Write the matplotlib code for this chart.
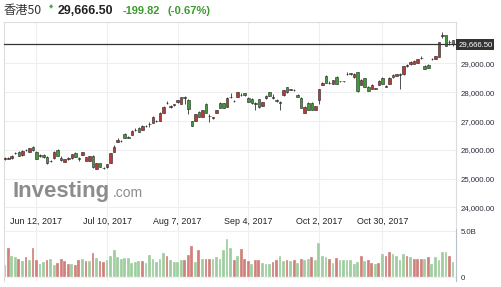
import matplotlib

matplotlib.use("Agg")
import matplotlib.pyplot as plt
import matplotlib.transforms as mtransforms
import numpy as np

plt.rcParams["font.family"] = ["Liberation Sans", "DejaVu Sans"]

W, H = 502, 287

# --- data (Hong Kong 50, daily, ~Jun-Nov 2017) ----------------------------
opens = [25690, 25700, 25720, 25890, 25930, 25810, 26000, 25940, 26100, 25930,
         25790, 25830, 25760, 25600, 25720, 26000, 25720, 25590, 25680, 25720,
         25890, 25720, 25830, 25630, 25620, 25790, 25340, 25540, 25360, 25400,
         25550, 25930, 26280, 26300, 26550, 26440, 26520, 26700, 26760, 26700,
         26830, 26890, 26940, 27000, 27010, 27290, 27620, 27500, 27570, 27660,
         27600, 27820, 27740, 26990, 27010, 27320, 27150, 27600, 27180, 27120,
         27290, 27630, 27620, 27500, 27830, 27700, 27850, 27910, 27970, 27800,
         27770, 27620, 27750, 27540, 27790, 28000, 27840, 27720, 27660, 27890,
         28170, 28090, 28080, 27910, 27800, 27290, 27640, 27630, 27390, 27720,
         28260, 28560, 28320, 28290, 28530, 28380, 28380, 28620, 28660, 28520,
         28690, 28270, 28480, 28200, 28130, 28120, 28270, 28510, 28200, 28300,
         28600, 28570, 28640, 28620, 28920, 28970, 28990, 29020, 29180, 28930,
         28960, 29150, 29160, 29240, 29970, 29980, 29750, 29800]
highs = [25740, 25760, 25810, 25940, 25960, 25990, 26030, 26080, 26130, 25950,
         25840, 25870, 25780, 25650, 25960, 26020, 25780, 25700, 25740, 25860,
         25910, 25740, 25930, 25760, 25800, 25810, 25550, 25560, 25400, 25520,
         25900, 26170, 26400, 26360, 26580, 26480, 26680, 26760, 26780, 26850,
         26850, 26980, 27160, 27040, 27300, 27510, 27700, 27560, 27610, 27740,
         27850, 27860, 27760, 27010, 27260, 27340, 27400, 27620, 27230, 27150,
         27400, 27650, 27640, 27820, 27990, 27730, 28010, 27960, 27990, 27820,
         27790, 27660, 27770, 27670, 27890, 28020, 27950, 27760, 27700, 28080,
         28190, 28110, 28100, 27930, 27820, 27510, 27660, 27650, 27540, 28120,
         28370, 28600, 28380, 28440, 28560, 28400, 28400, 28700, 28680, 28660,
         28710, 28450, 28500, 28220, 28280, 28150, 28410, 28530, 28240, 28520,
         28620, 28640, 28660, 28920, 28990, 29070, 29110, 29170, 29250, 28950,
         28980, 29180, 29260, 29740, 30080, 30000, 29830, 29820]
lows = [25660, 25680, 25700, 25870, 25780, 25790, 25950, 25920, 25960, 25670,
        25760, 25720, 25520, 25590, 25700, 25780, 25600, 25570, 25660, 25700,
        25750, 25620, 25820, 25610, 25600, 25380, 25320, 25410, 25320, 25380,
        25530, 25920, 26260, 26280, 26400, 26400, 26500, 26640, 26610, 26690,
        26790, 26780, 26920, 26980, 27000, 27280, 27580, 27460, 27530, 27640,
        27590, 27580, 27260, 26830, 26990, 27140, 27140, 27280, 26960, 27090,
        27280, 27450, 27460, 27490, 27790, 27660, 27840, 27860, 27880, 27650,
        27610, 27370, 27470, 27530, 27780, 27870, 27760, 27660, 27400, 27880,
        27990, 28070, 28060, 27820, 27450, 27270, 27380, 27390, 27380, 27600,
        28250, 28320, 28290, 28280, 28290, 28360, 28360, 28600, 28600, 28510,
        28010, 28250, 28190, 28050, 28120, 28100, 28260, 28290, 28180, 28290,
        28510, 28560, 28100, 28600, 28890, 28960, 28980, 29010, 29150, 28810,
        28840, 29120, 29150, 29230, 29900, 29600, 29650, 29620]
closes = [25720, 25730, 25790, 25900, 25800, 25970, 25980, 26060, 25980, 25690,
          25810, 25770, 25550, 25620, 25930, 25790, 25660, 25680, 25720, 25850,
          25760, 25670, 25920, 25750, 25790, 25390, 25540, 25420, 25380, 25510,
          25890, 26100, 26350, 26320, 26420, 26430, 26660, 26690, 26620, 26830,
          26830, 26910, 27150, 27010, 27290, 27500, 27620, 27500, 27570, 27730,
          27840, 27800, 27430, 26840, 27250, 27150, 27390, 27290, 27160, 27120,
          27390, 27460, 27470, 27810, 27830, 27700, 28000, 27900, 27890, 27660,
          27620, 27600, 27480, 27660, 27880, 27880, 27810, 27700, 27640, 28070,
          28000, 28090, 28080, 27830, 27460, 27500, 27390, 27400, 27530, 28100,
          28340, 28330, 28340, 28430, 28300, 28380, 28390, 28620, 28620, 28640,
          28030, 28440, 28200, 28060, 28270, 28140, 28400, 28300, 28210, 28510,
          28520, 28620, 28600, 28900, 28920, 29060, 29100, 29160, 29180, 28820,
          28850, 29150, 29250, 29730, 29970, 29620, 29760, 29666.5]

volumes = [1.26, 3.20, 2.26, 2.15, 1.96, 1.74, 2.19, 1.81, 3.15, 1.81,
           1.44, 1.59, 1.81, 1.93, 1.30, 1.48, 1.93, 1.74, 1.37, 1.37,
           1.33, 1.81, 1.96, 1.74, 1.74, 2.60, 2.04, 1.70, 1.59, 1.85,
           2.26, 2.93, 2.15, 1.96, 2.07, 2.07, 1.48, 1.59, 1.70, 1.70,
           1.56, 2.37, 1.96, 1.67, 2.00, 2.60, 2.26, 1.85, 1.59, 1.59,
           1.85, 1.81, 2.37, 3.37, 1.59, 2.93, 1.93, 1.93, 1.93, 1.93,
           2.22, 1.95, 2.96, 4.15, 3.20, 1.85, 2.30, 3.04, 1.93, 1.74,
           1.37, 1.89, 1.89, 1.56, 1.44, 1.37, 1.59, 1.81, 2.30, 1.70,
           1.81, 1.70, 1.81, 1.56, 1.93, 1.89, 1.93, 2.15, 1.89, 3.67,
           2.30, 2.19, 1.93, 1.48, 2.04, 1.81, 1.81, 1.81, 1.81, 1.37,
           1.63, 2.30, 1.70, 1.89, 1.56, 1.37, 1.56, 2.48, 2.30, 2.67,
           2.48, 2.30, 1.81, 2.48, 2.30, 2.15, 1.93, 1.93, 1.93, 1.93,
           2.19, 1.37, 2.22, 1.81, 2.67, 2.67, 2.30, 1.67]
vol_up = "grggrgrgrr" "ggrggrrrrg" "rrgrgrgrrg" "gggggggggr" \
         "ggggggrggg" "grrrgrgrrg" "gggggrgrrr" "grrgggrrgg" \
         "rgrgrggrgg" "ggrgrggggg" "grgrrgrgrr" "ggggrgrrrg" "rgggggrg"

date_idx = [9, 29, 49, 69, 89, 107]
date_labels = ["Jun 12, 2017", "Jul 10, 2017", "Aug 7, 2017",
               "Sep 4, 2017", "Oct 2, 2017", "Oct 30, 2017"]
price_ticks = [24000, 25000, 26000, 27000, 28000, 29000]
last_price = 29666.50
change, change_pct = -199.82, -0.67

UP, DOWN = "#b23c37", "#3f9a3a"
VUP, VDOWN = "#d07f7b", "#9fcd9f"
GRID = "#efefef"


def rect(x0, y0, x1, y1):
    """pixel box (top-left origin) -> figure fraction rect"""
    return [x0 / W, 1 - y1 / H, (x1 - x0) / W, (y1 - y0) / H]


fig = plt.figure(figsize=(W / 100, H / 100), dpi=100)
fig.patch.set_facecolor("white")

# --- price pane -------------------------------------------------------
ax = fig.add_axes(rect(4, 22, 456, 229))
x = np.arange(len(closes))
o, h, l, c = map(np.asarray, (opens, highs, lows, closes))
up = c >= o
cols = np.where(up, UP, DOWN)
body_lo = np.minimum(o, c)
body_h = np.maximum(np.abs(c - o), 12)

ax.vlines(x, l, h, color="#333333", lw=0.6, zorder=2)
ax.bar(x, body_h, bottom=body_lo, width=0.72, color=cols,
       edgecolor="#222222", linewidth=0.4, zorder=3)

ax.set_xlim(-0.2, 127.85)
ax.set_ylim(23253, 30441)
ax.set_yticks(price_ticks)
ax.set_yticklabels([f"{v:,.2f}" for v in price_ticks])
ax.yaxis.tick_right()
ax.tick_params(axis="y", length=0, pad=3.6, labelsize=5.6, labelcolor="#2c2c3c")
ax.set_xticks(date_idx)
ax.tick_params(axis="x", length=0, labelbottom=False)
ax.grid(True, color=GRID, lw=0.8, zorder=0)
for side in ("top", "left", "right"):
    ax.spines[side].set_color("#dcdcdc")
    ax.spines[side].set_linewidth(0.8)
ax.spines["bottom"].set_visible(False)

ax.axhline(last_price, color="#333333", lw=0.9, zorder=4)
ax.text(1.005, last_price, f"{last_price:,.2f}", transform=ax.get_yaxis_transform(),
        ha="left", va="center", fontsize=5.6, color="white", zorder=5,
        bbox=dict(boxstyle="square,pad=0.25", fc="#333333", ec="none"))

trans = mtransforms.blended_transform_factory(ax.transData, ax.transAxes)
for i, lab in zip(date_idx, date_labels):
    ax.text(i, 0.036, lab, transform=trans, ha="center", va="center",
            fontsize=6.4, color="#222222")

# watermark
fig.text(13 / W, 1 - 197 / H, "Investing", fontsize=16, fontweight="bold",
         color="#8c8c8c", va="baseline", ha="left")
fig.text(113 / W, 1 - 197 / H, ".com", fontsize=10, color="#8c8c8c",
         va="baseline", ha="left")

# --- volume pane ------------------------------------------------------
axv = fig.add_axes(rect(4, 229, 456, 281))
vcols = [VUP if d == "r" else VDOWN for d in vol_up]
axv.bar(x, volumes, width=0.78, color=vcols, edgecolor="white", linewidth=0.2)
axv.set_xlim(-0.2, 127.85)
axv.set_ylim(-0.43, 5.22)
axv.set_yticks([0, 5])
axv.set_yticklabels(["0", "5.0B"])
axv.yaxis.tick_right()
axv.tick_params(axis="y", length=0, pad=3.6, labelsize=5.6, labelcolor="#2c2c3c")
axv.set_xticks(date_idx)
axv.tick_params(axis="x", length=0, labelbottom=False)
axv.grid(True, color=GRID, lw=0.8, zorder=0)
axv.set_axisbelow(True)
for side in ("top", "bottom"):
    axv.spines[side].set_visible(False)
axv.spines["left"].set_color("#dcdcdc")
axv.spines["right"].set_color("#b8c0cc")

# --- header -----------------------------------------------------------
ty = 1 - 10.5 / H
fig.text(4 / W, ty, "香港50", fontsize=8.8, color="#333333", va="center",
         family=["Noto Sans CJK SC", "Liberation Sans"])
fig.text(48.5 / W, 1 - 6.5 / H, "◆", fontsize=4, color="#4caf50", va="center",
         family="DejaVu Sans")
fig.text(58 / W, ty, f"{last_price:,.2f}", fontsize=8.9, fontweight="bold",
         color="#222222", va="center")
fig.text(123 / W, ty, f"{change:,.2f}", fontsize=7.9, fontweight="bold",
         color="#3c9b2f", va="center")
fig.text(168 / W, ty, f"({change_pct:.2f}%)", fontsize=8.1, fontweight="bold",
         color="#3c9b2f", va="center")

fig.savefig("out.png", dpi=100)
